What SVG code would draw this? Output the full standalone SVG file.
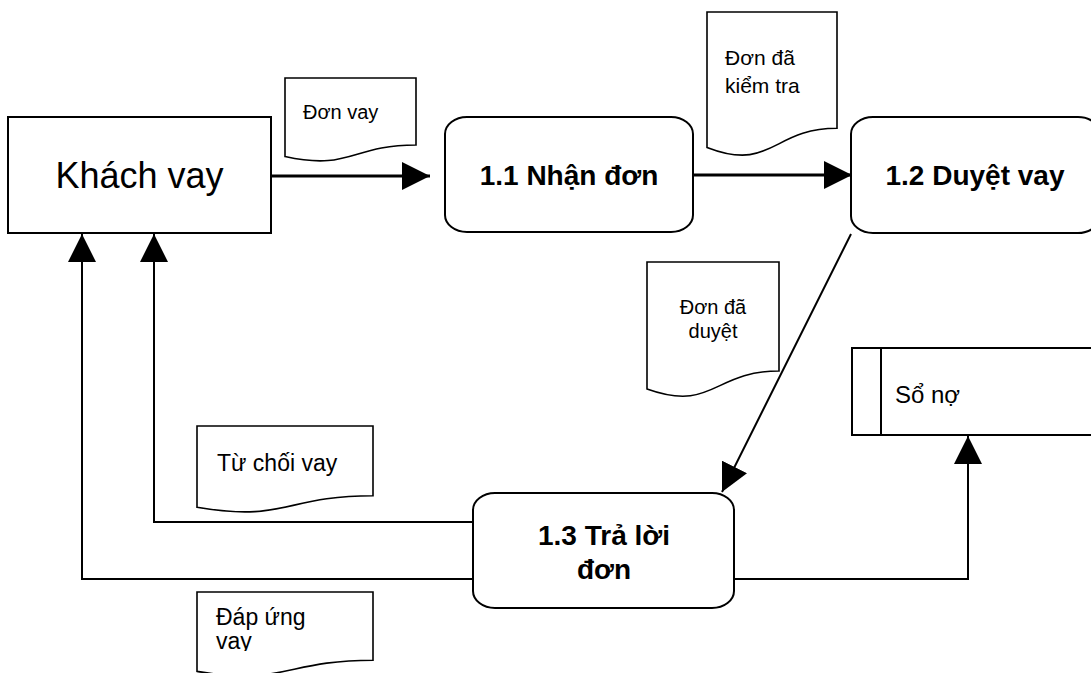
<svg xmlns="http://www.w3.org/2000/svg" width="1091" height="673" viewBox="0 0 1091 673">
  <style>
    .box { fill: #fff; stroke: #000; stroke-width: 2; }
    .doc { fill: #fff; stroke: #000; stroke-width: 1.6; }
    .flow { fill: none; stroke: #000; stroke-width: 2; }
    .thick { stroke-width: 3; }
    .lbl { font-family: "Liberation Sans", Arial, sans-serif; fill: #000; }
    .proc { font-family: "Liberation Sans", Arial, sans-serif; font-weight: bold; font-size: 28px; fill: #000; text-anchor: middle; }
  </style>
  <defs>
    <marker id="arrow" markerUnits="userSpaceOnUse" markerWidth="28" markerHeight="28" viewBox="0 0 28 28" refX="28" refY="14" orient="auto">
      <path d="M0,0 L28,14 L0,28 Z" fill="#000"/>
    </marker>
    <clipPath id="clipDapUng">
      <rect x="197" y="592" width="176" height="59"/>
    </clipPath>
  </defs>
  <rect width="1091" height="673" fill="#fff"/>

  <!-- data flows -->
  <g id="connectors">
    <line class="flow thick" x1="271" y1="176" x2="430" y2="176" marker-end="url(#arrow)"/>
    <line class="flow thick" x1="693" y1="175" x2="852" y2="175" marker-end="url(#arrow)"/>
    <line class="flow" x1="851" y1="234" x2="722" y2="492" stroke-width="2.5" marker-end="url(#arrow)"/>
    <polyline class="flow" points="733,579 968,579 968,436" marker-end="url(#arrow)"/>
    <polyline class="flow" points="473,522 154,522 154,234" marker-end="url(#arrow)"/>
    <polyline class="flow" points="473,579 82,579 82,234" marker-end="url(#arrow)"/>
  </g>

  <!-- external entity -->
  <g id="khach-vay">
    <rect class="box" x="8" y="117" width="263" height="116"/>
    <text class="lbl" x="139.5" y="188" font-size="36" text-anchor="middle">Khách vay</text>
  </g>

  <!-- processes -->
  <g id="p11">
    <rect class="box" x="445" y="117" width="248" height="115" rx="22" ry="17"/>
    <text class="proc" x="569" y="185">1.1 Nhận đơn</text>
  </g>
  <g id="p12">
    <rect class="box" x="851" y="117" width="249" height="116" rx="22" ry="17"/>
    <text class="proc" x="975" y="185">1.2 Duyệt vay</text>
  </g>
  <g id="p13">
    <rect class="box" x="473" y="493" width="261" height="115" rx="22" ry="17"/>
    <text class="proc" x="604" y="545">1.3 Trả lời</text>
    <text class="proc" x="604" y="579">đơn</text>
  </g>

  <!-- data store -->
  <g id="so-no">
    <path class="box" d="M1095,348 H852 V435 H1095" fill="#fff"/>
    <line x1="881" y1="348" x2="881" y2="435" stroke="#000" stroke-width="2"/>
    <text class="lbl" x="895" y="403" font-size="24">Sổ nợ</text>
  </g>

  <!-- document labels on flows -->
  <g id="doc-don-vay">
    <path class="doc" d="M285,78 H416 V145 C350.5,145 350.5,171 285,156.5 Z"/>
    <text class="lbl" x="303" y="119" font-size="20">Đơn vay</text>
  </g>
  <g id="doc-don-kiem-tra">
    <path class="doc" d="M707,12 H837 V128.3 C772,128.3 772,172.6 707,147.4 Z"/>
    <text class="lbl" x="725" y="65" font-size="21">Đơn đã</text>
    <text class="lbl" x="725" y="93" font-size="21">kiểm tra</text>
  </g>
  <g id="doc-don-duyet">
    <path class="doc" d="M647,262 H779 V371 C713,371 713,412.6 647,389 Z"/>
    <text class="lbl" x="713" y="314" font-size="20" text-anchor="middle">Đơn đã</text>
    <text class="lbl" x="713" y="338" font-size="20" text-anchor="middle">duyệt</text>
  </g>
  <g id="doc-tu-choi">
    <path class="doc" d="M197,426 H373 V495.8 C285,495.8 285,522.4 197,507.3 Z"/>
    <text class="lbl" x="217" y="471" font-size="23">Từ chối vay</text>
  </g>
  <g id="doc-dap-ung">
    <path class="doc" d="M197,592 H373 V660.2 C285,660.2 285,686.1 197,671.4 Z"/>
    <g clip-path="url(#clipDapUng)">
      <text class="lbl" x="216" y="625" font-size="23">Đáp ứng</text>
      <text class="lbl" x="216" y="649" font-size="23">vay</text>
    </g>
  </g>
</svg>
